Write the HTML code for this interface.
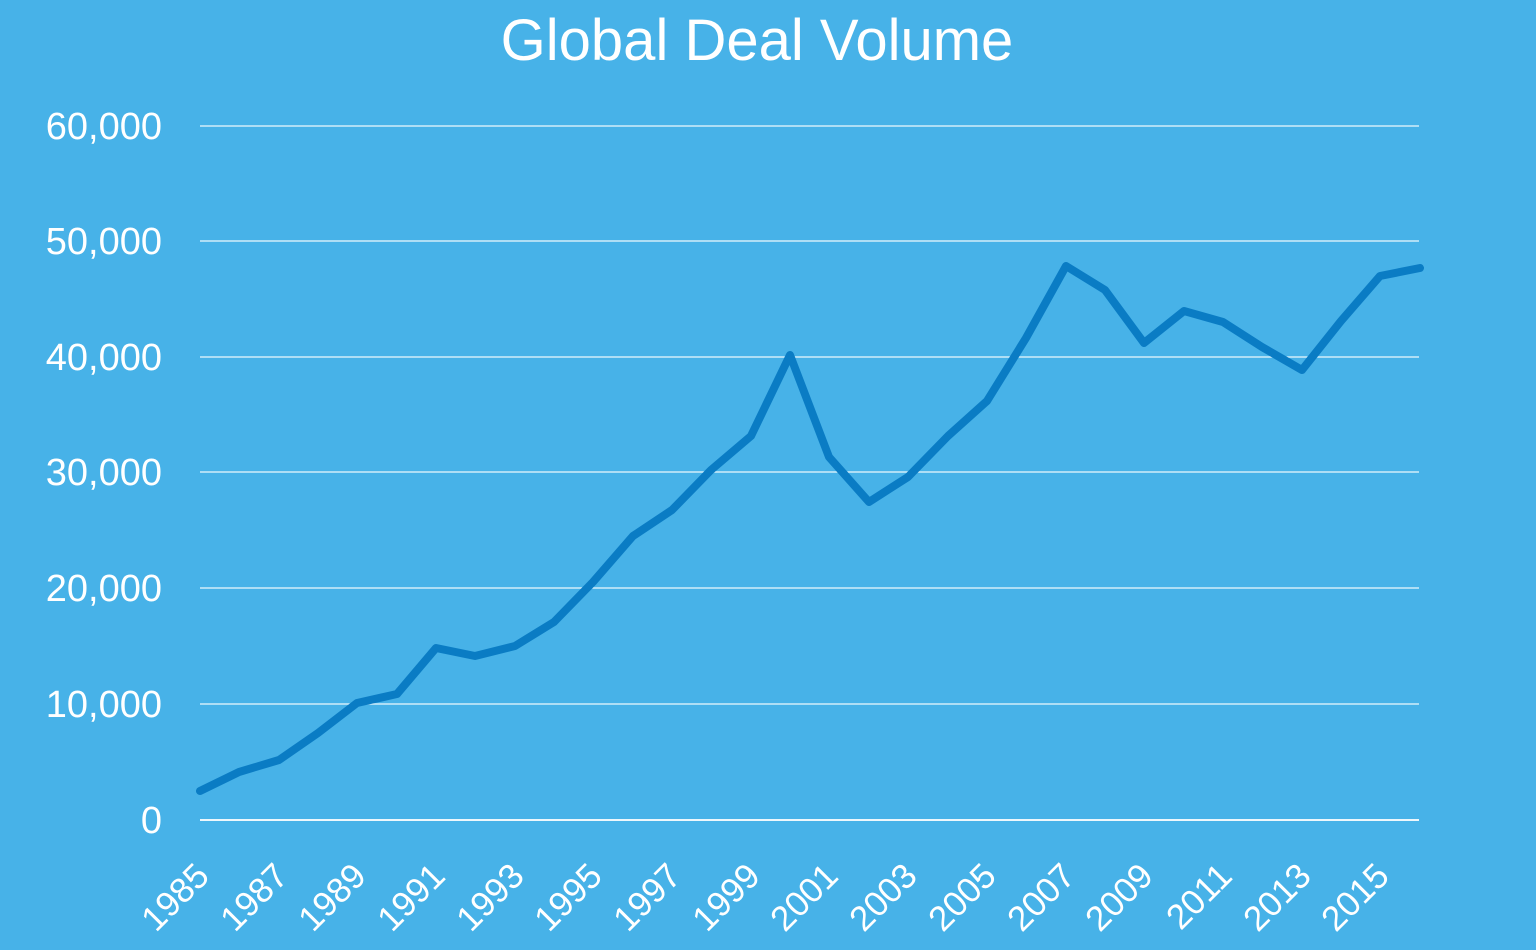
<!DOCTYPE html>
<html><head><meta charset="utf-8"><style>
html,body{margin:0;padding:0;background:#47b2e8;}
svg{display:block;}
text{font-family:"Liberation Sans",sans-serif;fill:#fff;}
</style></head><body>
<svg width="1536" height="950" viewBox="0 0 1536 950">
<rect width="1536" height="950" fill="#47b2e8"/>
<text x="757" y="60" font-size="58" text-anchor="middle">Global Deal Volume</text>
<g stroke="#ffffff" stroke-width="1.3" opacity="0.9">
<line x1="200" x2="1419" y1="126" y2="126"/>
<line x1="200" x2="1419" y1="241" y2="241"/>
<line x1="200" x2="1419" y1="357" y2="357"/>
<line x1="200" x2="1419" y1="472" y2="472"/>
<line x1="200" x2="1419" y1="588" y2="588"/>
<line x1="200" x2="1419" y1="704" y2="704"/>
<line x1="200" x2="1419" y1="820" y2="820" stroke-width="2"/>
</g>
<g font-size="38" text-anchor="end">
<text x="162" y="139">60,000</text>
<text x="162" y="254">50,000</text>
<text x="162" y="370">40,000</text>
<text x="162" y="485">30,000</text>
<text x="162" y="601">20,000</text>
<text x="162" y="717">10,000</text>
<text x="162" y="833">0</text>
</g>
<polyline fill="none" stroke="#0a7cc4" stroke-width="8" stroke-linejoin="round" stroke-linecap="round" points="200,791 239,772 279,760 318,733 357,703 397,694 436,648 475,656 515,646 554,622 593,582 633,536 672,510 711,470 751,436 790,355 829,457 869,502 908,477 948,436 987,401 1026,338 1066,266 1105,290 1144,343 1184,311 1223,322 1262,347 1302,370 1341,321 1380,276 1420,268"/>
<g font-size="35" text-anchor="end">
<text transform="translate(211,878) rotate(-45)">1985</text>
<text transform="translate(290,878) rotate(-45)">1987</text>
<text transform="translate(368,878) rotate(-45)">1989</text>
<text transform="translate(447,878) rotate(-45)">1991</text>
<text transform="translate(526,878) rotate(-45)">1993</text>
<text transform="translate(604,878) rotate(-45)">1995</text>
<text transform="translate(683,878) rotate(-45)">1997</text>
<text transform="translate(762,878) rotate(-45)">1999</text>
<text transform="translate(840,878) rotate(-45)">2001</text>
<text transform="translate(919,878) rotate(-45)">2003</text>
<text transform="translate(998,878) rotate(-45)">2005</text>
<text transform="translate(1077,878) rotate(-45)">2007</text>
<text transform="translate(1155,878) rotate(-45)">2009</text>
<text transform="translate(1234,878) rotate(-45)">2011</text>
<text transform="translate(1313,878) rotate(-45)">2013</text>
<text transform="translate(1391,878) rotate(-45)">2015</text>
</g>
</svg>
</body></html>
